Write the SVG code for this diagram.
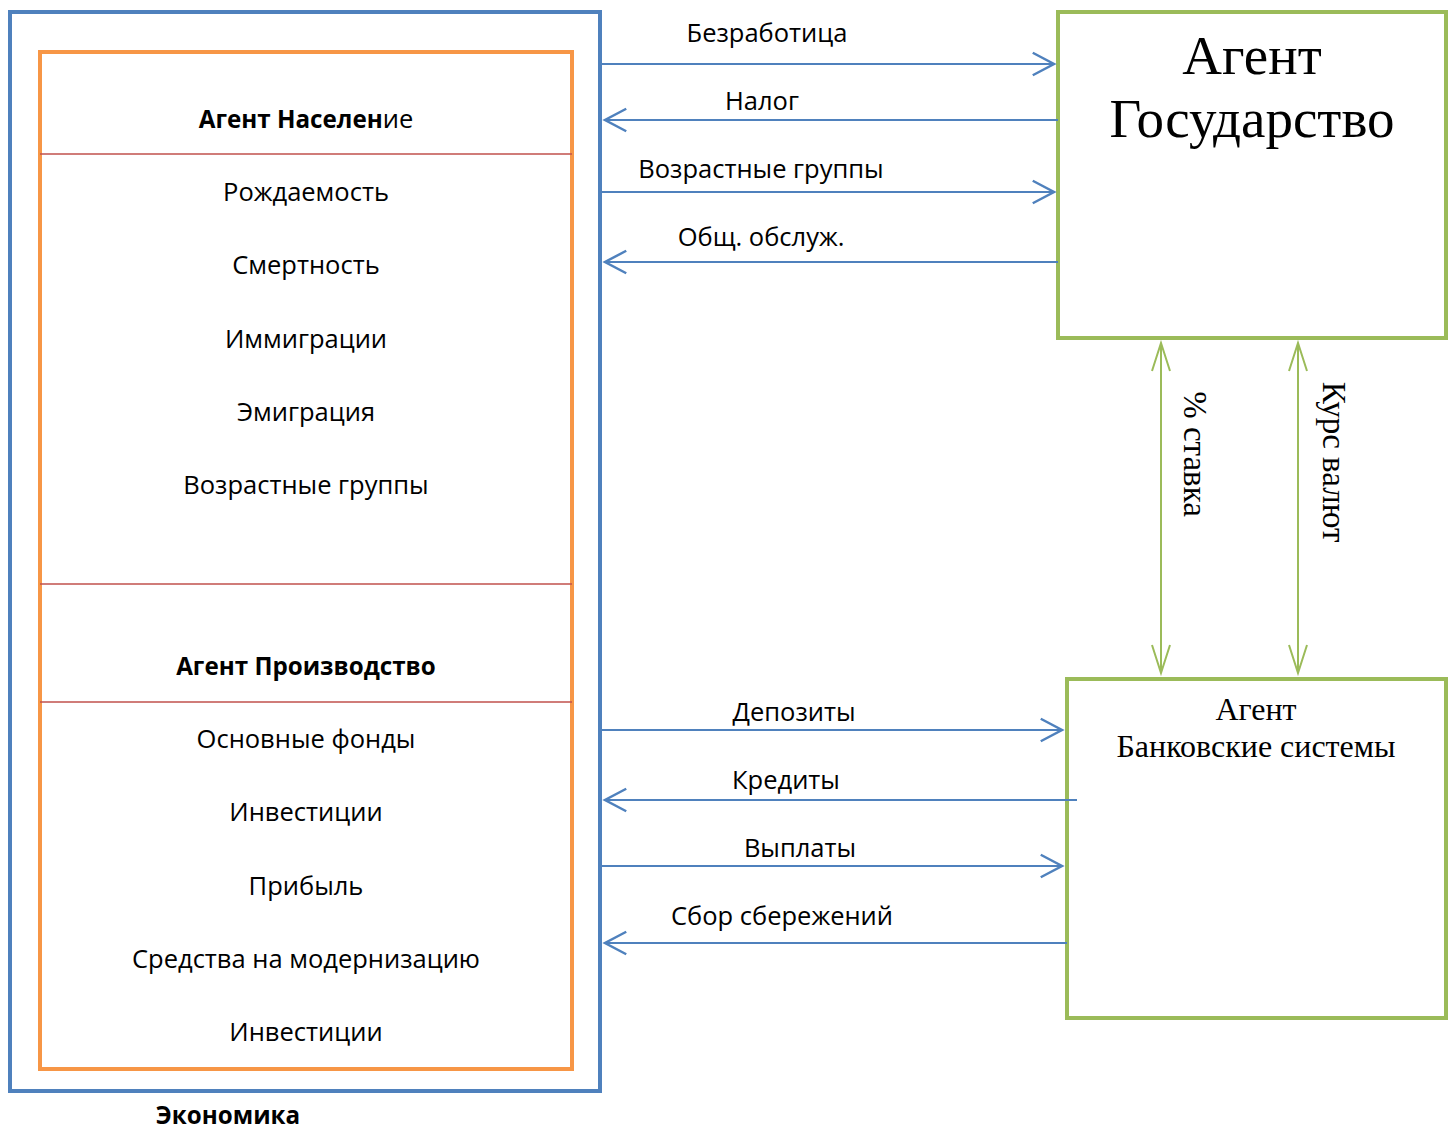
<svg xmlns="http://www.w3.org/2000/svg" width="1452" height="1129" viewBox="0 0 1452 1129">
<defs>
<style>
.t{font-family:"Open Sans","Noto Sans",sans-serif;font-size:25.5px;fill:#000;text-anchor:middle}
.b{font-weight:bold;font-size:24.2px}
.s{font-family:"Liberation Serif","DejaVu Serif",serif;fill:#000;text-anchor:middle}
.blue{stroke:#4F81BD;stroke-width:2;fill:none}
.green{stroke:#9BBB59;stroke-width:2;fill:none}
</style>
<marker id="ab" markerUnits="userSpaceOnUse" markerWidth="30" markerHeight="30" viewBox="-20 -12 24 24" refX="0" refY="0" orient="auto-start-reverse">
<path d="M-17,-9 L0,0 L-17,9" fill="none" stroke="#4F81BD" stroke-width="2"/>
</marker>
<marker id="ag" markerUnits="userSpaceOnUse" markerWidth="34" markerHeight="30" viewBox="-30 -12 34 24" refX="0" refY="0" orient="auto-start-reverse">
<path d="M-28,-9 L0,0 L-28,9" fill="none" stroke="#9BBB59" stroke-width="2"/>
</marker>
</defs>
<rect width="1452" height="1129" fill="#fff"/>

<g id="economy">
<rect x="10" y="12" width="590" height="1079" fill="none" stroke="#4F81BD" stroke-width="4"/>
<text class="t b" x="228" y="1124">Экономика</text>
</g>

<g id="agents-inner">
<rect x="40" y="52" width="532" height="1017" fill="none" stroke="#F79646" stroke-width="4"/>
<line x1="40" y1="154" x2="572" y2="154" stroke="#C0504D" stroke-width="1.5"/>
<line x1="40" y1="584" x2="572" y2="584" stroke="#C0504D" stroke-width="1.5"/>
<line x1="40" y1="702" x2="572" y2="702" stroke="#C0504D" stroke-width="1.5"/>
</g>

<g id="population">
<text class="t" x="306" y="128"><tspan class="b">Агент Населен</tspan>ие</text>
<text class="t" x="306" y="201">Рождаемость</text>
<text class="t" x="306" y="274">Смертность</text>
<text class="t" x="306" y="348">Иммиграции</text>
<text class="t" x="306" y="421">Эмиграция</text>
<text class="t" x="306" y="494">Возрастные группы</text>
</g>

<g id="production">
<text class="t b" x="306" y="675">Агент Производство</text>
<text class="t" x="306" y="748">Основные фонды</text>
<text class="t" x="306" y="821">Инвестиции</text>
<text class="t" x="306" y="895">Прибыль</text>
<text class="t" x="306" y="968">Средства на модернизацию</text>
<text class="t" x="306" y="1041">Инвестиции</text>
</g>

<g id="state">
<rect x="1058" y="12" width="388" height="326" fill="none" stroke="#9BBB59" stroke-width="4"/>
<text class="s" x="1252" y="74" font-size="55">Агент</text>
<text class="s" x="1252" y="137" font-size="55">Государство</text>
</g>

<g id="bank">
<rect x="1067" y="679" width="379" height="339" fill="none" stroke="#9BBB59" stroke-width="4"/>
<text class="s" x="1256" y="720" font-size="32">Агент</text>
<text class="s" x="1256" y="757" font-size="32">Банковские системы</text>
</g>

<g id="connectors">
<line class="blue" x1="602" y1="64" x2="1054" y2="64" marker-end="url(#ab)"/>
<line class="blue" x1="1058" y1="120" x2="605" y2="120" marker-end="url(#ab)"/>
<line class="blue" x1="602" y1="192" x2="1054" y2="192" marker-end="url(#ab)"/>
<line class="blue" x1="1058" y1="262" x2="605" y2="262" marker-end="url(#ab)"/>
<line class="blue" x1="602" y1="730" x2="1062" y2="730" marker-end="url(#ab)"/>
<line class="blue" x1="1077" y1="800" x2="605" y2="800" marker-end="url(#ab)"/>
<line class="blue" x1="602" y1="866" x2="1062" y2="866" marker-end="url(#ab)"/>
<line class="blue" x1="1067" y1="943" x2="605" y2="943" marker-end="url(#ab)"/>
<line class="green" x1="1161" y1="343" x2="1161" y2="673" marker-start="url(#ag)" marker-end="url(#ag)"/>
<line class="green" x1="1298" y1="343" x2="1298" y2="673" marker-start="url(#ag)" marker-end="url(#ag)"/>
<text class="t" x="767" y="42">Безработица</text>
<text class="t" x="762" y="110">Налог</text>
<text class="t" x="761" y="178">Возрастные группы</text>
<text class="t" x="761" y="246">Общ. обслуж.</text>
<text class="t" x="794" y="721">Депозиты</text>
<text class="t" x="786" y="789">Кредиты</text>
<text class="t" x="800" y="857">Выплаты</text>
<text class="t" x="782" y="925">Сбор сбережений</text>
<text class="s" font-size="33" transform="translate(1184,454) rotate(90)" x="0" y="0">% ставка</text>
<text class="s" font-size="33" transform="translate(1323,462) rotate(90)" x="0" y="0">Курс валют</text>
</g>
</svg>
